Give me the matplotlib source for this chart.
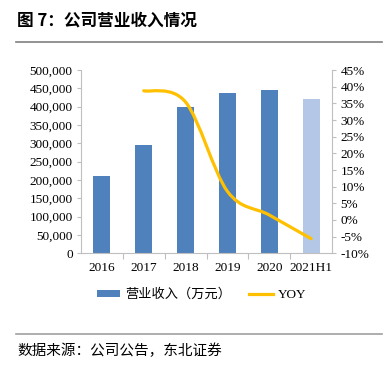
import matplotlib
matplotlib.use("Agg")
import matplotlib.pyplot as plt
from matplotlib.path import Path
from matplotlib.patches import PathPatch, Patch
from matplotlib.lines import Line2D
from matplotlib.ticker import FuncFormatter, FixedLocator
import numpy as np

# data
years = ["2016", "2017", "2018", "2019", "2020", "2021H1"]
revenue = [212000, 294500, 399000, 438000, 444500, 420000]  # 万元
yoy_years = ["2017", "2018", "2019", "2020", "2021H1"]
yoy = [38.8, 35.4, 8.6, 1.5, -5.6]  # %

title = "图 7：公司营业收入情况"
source = "数据来源：公司公告，东北证券"

BLUE = "#4F81BD"
LIGHT = "#B4C7E7"
GOLD = "#FFC000"
GRID = "#BFBFBF"
MIXED = ["Liberation Serif", "Noto Sans CJK SC"]

plt.rcParams["font.family"] = MIXED


def smooth_path(xs, ys):
    # excel-like smoothed line: cubic bezier through the points
    pts = np.column_stack([xs, ys]).astype(float)
    verts = [pts[0]]
    codes = [Path.MOVETO]
    n = len(pts)
    for i in range(n - 1):
        p0 = pts[i - 1] if i > 0 else pts[i]
        p1 = pts[i]
        p2 = pts[i + 1]
        p3 = pts[i + 2] if i + 2 < n else pts[i + 1]
        c1 = p1 + (p2 - p0) / 6
        c2 = p2 - (p3 - p1) / 6
        verts += [c1, c2, p2]
        codes += [Path.CURVE4] * 3
    return Path(verts, codes)


fig = plt.figure(figsize=(3.89, 3.65), dpi=100)
ax = fig.add_axes([0.2082, 0.306, 0.6453, 0.502])

x = np.arange(len(years))
colors = [BLUE] * (len(years) - 1) + [LIGHT]
ax.bar(x, revenue, width=0.41, color=colors, zorder=2)
ax.set_xlim(-0.5, len(years) - 0.5)
ax.set_ylim(0, 500000)
ax.set_yticks(np.arange(0, 500001, 50000))
ax.yaxis.set_major_formatter(FuncFormatter(lambda v, p: f"{int(v):,}"))
ax.set_xticks(x)
ax.set_xticklabels(years)
ax.xaxis.set_minor_locator(FixedLocator(np.arange(0.5, len(years) - 1, 1)))
ax.tick_params(axis="x", which="major", length=0, pad=6, labelsize=9.5)
ax.tick_params(axis="x", which="minor", length=4, color=GRID, width=0.8)
ax.tick_params(axis="y", length=3, color=GRID, width=0.8, labelsize=9.5, pad=3)

for side in ["top", "right"]:
    ax.spines[side].set_visible(False)
for side in ["left", "bottom"]:
    ax.spines[side].set_color(GRID)
    ax.spines[side].set_linewidth(0.8)

ax2 = ax.twinx()
ax2.set_ylim(-10, 45)
ax2.set_yticks(np.arange(-10, 46, 5))
ax2.yaxis.set_major_formatter(FuncFormatter(lambda v, p: f"{int(v)}%"))
ax2.tick_params(axis="y", length=3, color=GRID, width=0.8, labelsize=9.5, pad=3)
for side in ["top", "left", "bottom"]:
    ax2.spines[side].set_visible(False)
ax2.spines["right"].set_color(GRID)
ax2.spines["right"].set_linewidth(0.8)

yx = [years.index(y) for y in yoy_years]
ax2.add_patch(PathPatch(smooth_path(yx, yoy), facecolor="none", edgecolor=GOLD,
                        lw=2.3, capstyle="round", zorder=3))

handles = [Patch(facecolor=BLUE, edgecolor="none"),
           Line2D([], [], color=GOLD, lw=2.3)]
fig.legend(handles, ["营业收入（万元）", "YOY"], loc="center",
           bbox_to_anchor=(0.518, 0.192), ncol=2, frameon=False,
           prop={"family": MIXED, "size": 9.5}, handlelength=1.8,
           handleheight=0.4, columnspacing=1.4, handletextpad=0.35)

fig.text(0.044, 0.945, title, fontsize=12, fontweight="bold",
         family=["Noto Sans CJK SC"], va="center", ha="left")
fig.add_artist(Line2D([0.041, 0.982], [0.885, 0.885], color="#808080", lw=1.2))
fig.add_artist(Line2D([0.041, 0.982], [0.085, 0.085], color="#A0A0A0", lw=1.2))
fig.text(0.044, 0.038, source, fontsize=10.5, family=["Noto Sans CJK SC"],
         va="center", ha="left")

fig.savefig("out.png", dpi=100)
